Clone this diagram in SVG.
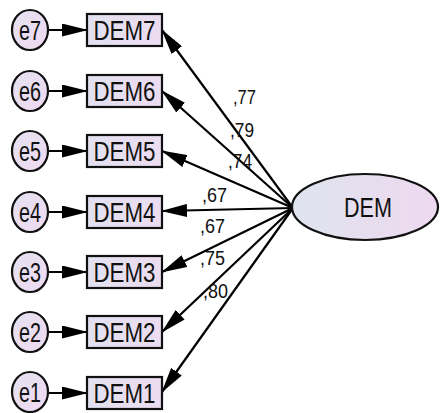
<svg xmlns="http://www.w3.org/2000/svg" width="440" height="413" viewBox="0 0 440 413">
<defs>
<linearGradient id="gBox" x1="0" y1="0" x2="1" y2="0"><stop offset="0" stop-color="#e2e1f0"/><stop offset="1" stop-color="#ecdcf0"/></linearGradient>
<linearGradient id="gCirc" x1="0" y1="0" x2="1" y2="1"><stop offset="0" stop-color="#e4e2f1"/><stop offset="1" stop-color="#f0d9f0"/></linearGradient>
<linearGradient id="gEll" x1="0" y1="0" x2="1" y2="0"><stop offset="0" stop-color="#dfe4ee"/><stop offset="1" stop-color="#eed9f0"/></linearGradient>
<marker id="ah" markerWidth="26" markerHeight="13" refX="25" refY="6.5" orient="auto" markerUnits="userSpaceOnUse"><path d="M0,0 L26,6.5 L0,13 Z" fill="#000"/></marker>
<style>
.box{fill:url(#gBox);stroke:#111;stroke-width:2.2}
.circ{fill:url(#gCirc);stroke:#111;stroke-width:2.2}
.lbl{font-family:"Liberation Sans",Arial,sans-serif;font-size:27px;fill:#111;text-anchor:middle}
.elbl{font-family:"Liberation Sans",Arial,sans-serif;font-size:27px;fill:#111;text-anchor:middle}
.coef{font-family:"Liberation Sans",Arial,sans-serif;font-size:20px;fill:#111}
.conn line{stroke:#000;stroke-width:2.2;marker-end:url(#ah)}
</style>
</defs>
<g id="connectors" class="conn">
<line x1="48" y1="30" x2="87" y2="30"/>
<line x1="48" y1="91" x2="87" y2="91"/>
<line x1="48" y1="151" x2="87" y2="151"/>
<line x1="48" y1="212" x2="87" y2="212"/>
<line x1="48" y1="272" x2="87" y2="272"/>
<line x1="48" y1="332" x2="87" y2="332"/>
<line x1="48" y1="393" x2="87" y2="393"/>
<line x1="293" y1="208" x2="162" y2="30"/>
<line x1="293" y1="208" x2="162" y2="91"/>
<line x1="293" y1="208" x2="162" y2="151"/>
<line x1="293" y1="208" x2="162" y2="211"/>
<line x1="293" y1="208" x2="162" y2="272"/>
<line x1="293" y1="208" x2="162" y2="332"/>
<line x1="293" y1="208" x2="162" y2="392"/>
</g>
<g id="labels">
<text class="coef" x="233" y="104" textLength="23" lengthAdjust="spacingAndGlyphs">,77</text>
<text class="coef" x="230" y="137" textLength="24" lengthAdjust="spacingAndGlyphs">,79</text>
<text class="coef" x="228" y="168" textLength="24" lengthAdjust="spacingAndGlyphs">,74</text>
<text class="coef" x="202" y="202" textLength="25" lengthAdjust="spacingAndGlyphs">,67</text>
<text class="coef" x="200" y="233" textLength="25" lengthAdjust="spacingAndGlyphs">,67</text>
<text class="coef" x="200" y="265" textLength="25" lengthAdjust="spacingAndGlyphs">,75</text>
<text class="coef" x="203" y="298" textLength="25" lengthAdjust="spacingAndGlyphs">,80</text>
</g>
<g id="DEM">
<ellipse cx="365" cy="207" rx="73" ry="33" fill="url(#gEll)" stroke="#111" stroke-width="2.2"/>
<text class="elbl" x="368" y="217" textLength="48" lengthAdjust="spacingAndGlyphs">DEM</text>
</g>
<g id="DEM7"><rect class="box" x="87" y="14" width="75" height="32"/><text class="lbl" x="124.5" y="39.5" textLength="62" lengthAdjust="spacingAndGlyphs">DEM7</text></g>
<g id="DEM6"><rect class="box" x="87" y="75" width="75" height="32"/><text class="lbl" x="124.5" y="100.5" textLength="62" lengthAdjust="spacingAndGlyphs">DEM6</text></g>
<g id="DEM5"><rect class="box" x="87" y="135" width="75" height="32"/><text class="lbl" x="124.5" y="160.5" textLength="62" lengthAdjust="spacingAndGlyphs">DEM5</text></g>
<g id="DEM4"><rect class="box" x="87" y="196" width="75" height="32"/><text class="lbl" x="124.5" y="221.5" textLength="62" lengthAdjust="spacingAndGlyphs">DEM4</text></g>
<g id="DEM3"><rect class="box" x="87" y="256" width="75" height="32"/><text class="lbl" x="124.5" y="281.5" textLength="62" lengthAdjust="spacingAndGlyphs">DEM3</text></g>
<g id="DEM2"><rect class="box" x="87" y="316" width="75" height="32"/><text class="lbl" x="124.5" y="341.5" textLength="62" lengthAdjust="spacingAndGlyphs">DEM2</text></g>
<g id="DEM1"><rect class="box" x="87" y="377" width="75" height="32"/><text class="lbl" x="124.5" y="402.5" textLength="62" lengthAdjust="spacingAndGlyphs">DEM1</text></g>
<g id="e7"><ellipse class="circ" cx="30" cy="30" rx="18" ry="20"/><text class="lbl" x="30" y="39.5" textLength="22" lengthAdjust="spacingAndGlyphs">e7</text></g>
<g id="e6"><ellipse class="circ" cx="30" cy="91" rx="18" ry="20"/><text class="lbl" x="30" y="100.5" textLength="22" lengthAdjust="spacingAndGlyphs">e6</text></g>
<g id="e5"><ellipse class="circ" cx="30" cy="151" rx="18" ry="20"/><text class="lbl" x="30" y="160.5" textLength="22" lengthAdjust="spacingAndGlyphs">e5</text></g>
<g id="e4"><ellipse class="circ" cx="30" cy="212" rx="18" ry="20"/><text class="lbl" x="30" y="221.5" textLength="22" lengthAdjust="spacingAndGlyphs">e4</text></g>
<g id="e3"><ellipse class="circ" cx="30" cy="272" rx="18" ry="20"/><text class="lbl" x="30" y="281.5" textLength="22" lengthAdjust="spacingAndGlyphs">e3</text></g>
<g id="e2"><ellipse class="circ" cx="30" cy="332" rx="18" ry="20"/><text class="lbl" x="30" y="341.5" textLength="22" lengthAdjust="spacingAndGlyphs">e2</text></g>
<g id="e1"><ellipse class="circ" cx="30" cy="392" rx="18" ry="20"/><text class="lbl" x="30" y="401.5" textLength="22" lengthAdjust="spacingAndGlyphs">e1</text></g>
</svg>
